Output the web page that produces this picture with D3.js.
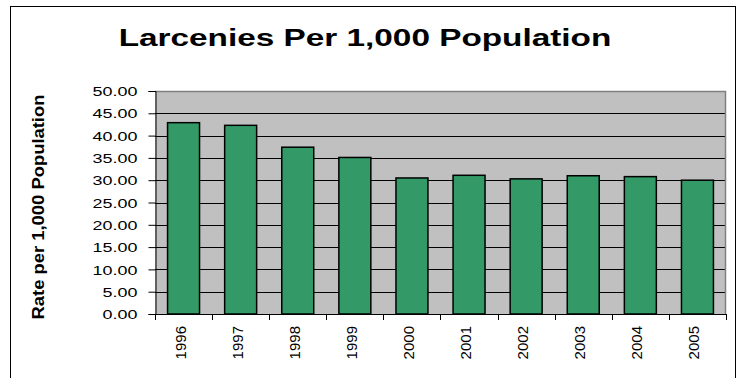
<!DOCTYPE html>
<html>
<head>
<meta charset="utf-8">
<script src="https://cdn.jsdelivr.net/npm/d3@7"></script>
<style>
  html, body { margin: 0; padding: 0; background: #fff; }
  svg { display: block; }
  text { font-family: Arial, "Liberation Sans", sans-serif; fill: #000; }
</style>
</head>
<body>
<script>
const titleText = "Larcenies Per 1,000 Population";
const yAxisTitle = "Rate per 1,000 Population";
const years = ["1996","1997","1998","1999","2000","2001","2002","2003","2004","2005"];
const rates = [42.9, 42.3, 37.4, 35.1, 30.5, 31.1, 30.3, 31.0, 30.8, 30.0];
const yTicks = [0, 5, 10, 15, 20, 25, 30, 35, 40, 45, 50];

const W = 739, H = 378;
const svg = d3.select("body").append("svg").attr("width", W).attr("height", H);

// outer chart border
svg.append("rect").attr("x", 10.5).attr("y", 6.5).attr("width", 725).attr("height", 420)
  .attr("fill", "#fff").attr("stroke", "#000").attr("stroke-width", 1);

const plot = { left: 155, right: 726, top: 91, bottom: 314 };

const x = d3.scaleBand().domain(years).range([plot.left, plot.right]).paddingInner(0.44).paddingOuter(0.22);
const y = d3.scaleLinear().domain([0, 50]).range([plot.bottom, plot.top]);

// plot background
svg.append("rect").attr("x", plot.left).attr("y", plot.top)
  .attr("width", plot.right - plot.left).attr("height", plot.bottom - plot.top)
  .attr("fill", "#C0C0C0");

// gridlines
svg.append("g").selectAll("line").data(yTicks.filter(d => d > 0 && d < 50)).join("line")
  .attr("x1", plot.left).attr("x2", plot.right)
  .attr("y1", d => Math.round(y(d)) + 0.5).attr("y2", d => Math.round(y(d)) + 0.5)
  .attr("stroke", "#000").attr("stroke-width", 1);

// plot border top/right (gray)
svg.append("path")
  .attr("d", `M${plot.left},${plot.top + 0.5}H${plot.right - 0.5}V${plot.bottom}`)
  .attr("fill", "none").attr("stroke", "#808080").attr("stroke-width", 1.5);

// bars
svg.append("g").selectAll("rect").data(years).join("rect")
  .attr("x", d => x(d))
  .attr("y", (d, i) => y(rates[i]))
  .attr("width", x.bandwidth())
  .attr("height", (d, i) => y(0) - y(rates[i]))
  .attr("fill", "#339966").attr("stroke", "#000").attr("stroke-width", 1.5);

// y axis
const yAxis = d3.axisLeft(y).tickValues(yTicks).tickSize(7).tickFormat(d3.format(".2f"));
const gy = svg.append("g").attr("transform", `translate(${plot.left + 0.5},0)`).call(yAxis);
gy.select(".domain").attr("stroke", "#000");
gy.selectAll(".tick line").attr("stroke", "#000");
gy.selectAll(".tick text").each(function() {
  const t = d3.select(this);
  t.attr("x", null).attr("dy", "0.36em")
   .attr("text-anchor", "end")
   .style("font-size", "13px")
   .attr("transform", "translate(-18,0) scale(1.38,1)");
});

// x axis with ticks at band boundaries
const bounds = years.map(d => x(d) - x.step() * x.paddingInner() / 2);
bounds.push(plot.right);
const gx = svg.append("g");
gx.append("line").attr("x1", plot.left).attr("x2", plot.right)
  .attr("y1", plot.bottom + 0.5).attr("y2", plot.bottom + 0.5).attr("stroke", "#000");
gx.selectAll("line.tk").data(bounds).join("line").attr("class", "tk")
  .attr("x1", d => Math.round(d) + 0.5).attr("x2", d => Math.round(d) + 0.5)
  .attr("y1", plot.bottom).attr("y2", plot.bottom + 6).attr("stroke", "#000");
gx.selectAll("text").data(years).join("text")
  .attr("transform", d => `translate(${x(d) + x.bandwidth() / 2 + 2},326) rotate(-90)`)
  .attr("text-anchor", "end")
  .style("font-size", "15px")
  .text(d => d);

// title
svg.append("text")
  .attr("transform", "translate(365,46) scale(1.45,1)")
  .attr("text-anchor", "middle")
  .style("font-size", "23px").style("font-weight", "bold")
  .text(titleText);

// y axis title
svg.append("text")
  .attr("transform", "translate(44,207) rotate(-90) scale(1.15,1)")
  .attr("text-anchor", "middle")
  .style("font-size", "16px").style("font-weight", "bold")
  .text(yAxisTitle);
</script>
</body>
</html>
